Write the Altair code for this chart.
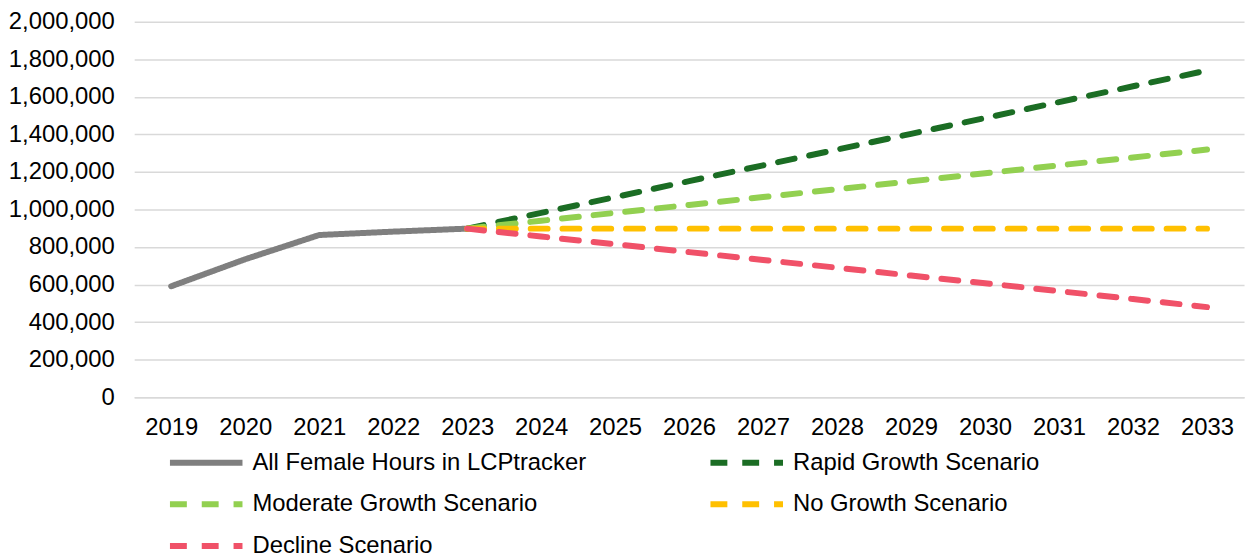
import altair as alt
import pandas as pd

years_actual = ["2019", "2020", "2021", "2022", "2023"]
actual = [591000, 735000, 864000, 882000, 898000]

years_scen = ["2023", "2024", "2025", "2026", "2027", "2028", "2029", "2030", "2031", "2032", "2033"]
rapid = [898000, 982000, 1066000, 1151000, 1235000, 1319000, 1403000, 1487000, 1572000, 1656000, 1740000]
moderate = [898000, 940000, 982000, 1024000, 1066000, 1108000, 1150000, 1193000, 1235000, 1277000, 1319000]
no_growth = [898000] * 11
decline = [898000, 856000, 815000, 773000, 731000, 690000, 648000, 607000, 565000, 523000, 480000]

all_years = [str(y) for y in range(2019, 2034)]

series_names = [
    "All Female Hours in LCPtracker",
    "Rapid Growth Scenario",
    "Moderate Growth Scenario",
    "No Growth Scenario",
    "Decline Scenario",
]
series_colors = ["#7f7f7f", "#1b6d24", "#92d050", "#ffc000", "#f05168"]
series_dash = [[1, 0], [17, 15], [17, 15], [17, 15], [17, 15]]

rows = []
for y, v in zip(years_actual, actual):
    rows.append({"year": y, "value": v, "series": series_names[0]})
for name, vals in zip(series_names[1:], [rapid, moderate, no_growth, decline]):
    for y, v in zip(years_scen, vals):
        rows.append({"year": y, "value": v, "series": name})
df = pd.DataFrame(rows)

FONT = "Liberation Sans"

chart = alt.Chart(df).mark_line(strokeWidth=6, strokeCap="round", strokeJoin="round").encode(
    x=alt.X("year:N", sort=all_years, scale=alt.Scale(type="point", domain=all_years, padding=0.5),
            axis=alt.Axis(title=None, labelAngle=0, ticks=False, labelPadding=18, grid=False,
                          domainColor="#d9d9d9", domainWidth=1.5)),
    y=alt.Y("value:Q", scale=alt.Scale(domain=[0, 2000000]),
            axis=alt.Axis(title=None, values=list(range(0, 2000001, 200000)), format=",.0f",
                          ticks=False, domain=False, labelPadding=20,
                          gridColor="#d9d9d9", gridWidth=1.5)),
    color=alt.Color("series:N", scale=alt.Scale(domain=series_names, range=series_colors),
                    legend=alt.Legend(title=None, orient="none", legendX=33, legendY=423, columns=2,
                                      direction="horizontal",
                                      symbolType="stroke", symbolStrokeWidth=6, symbolSize=5329,
                                      labelFontSize=24, labelFont=FONT, labelColor="#000000",
                                      labelOffset=7, columnPadding=121, rowPadding=0,
                                      clipHeight=41.5, labelLimit=500)),
    strokeDash=alt.StrokeDash("series:N", scale=alt.Scale(domain=series_names, range=series_dash),
                              legend=None),
).properties(
    width=1117, height=378,
    autosize=alt.AutoSizeParams(type="none"),
    padding={"left": 127, "top": 12, "right": 3, "bottom": 160},
).configure_axis(
    labelFont=FONT, labelFontSize=24, labelColor="#000000"
).configure_view(stroke=None)

chart.save("out.html", embed_options={"renderer": "svg", "actions": False})
